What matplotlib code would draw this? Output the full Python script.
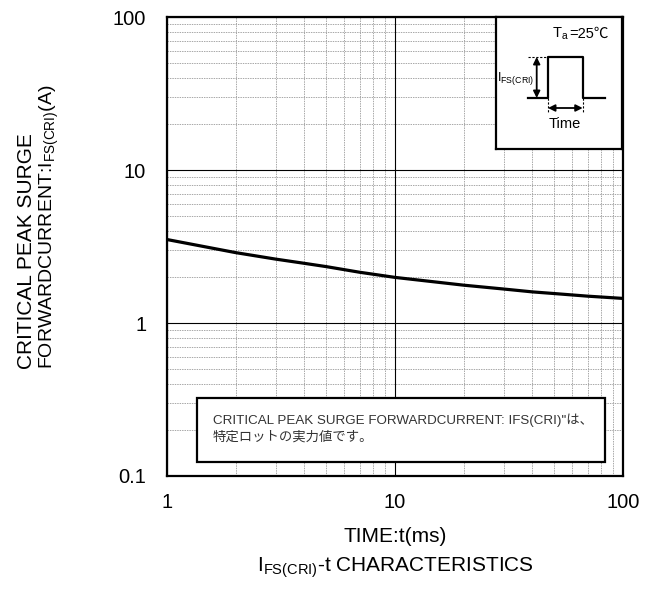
import matplotlib
matplotlib.use("Agg")
import matplotlib.pyplot as plt
from matplotlib.patches import Rectangle
from matplotlib.ticker import LogLocator, NullFormatter

plt.rcParams['font.family'] = ['Liberation Sans', 'Noto Sans CJK JP', 'DejaVu Sans']
plt.rcParams['mathtext.fontset'] = 'custom'
plt.rcParams['mathtext.rm'] = 'Liberation Sans'

# curve
time_ms = [1, 2, 3, 4, 5, 7, 10, 20, 30, 40, 50, 70, 100]
current_a = [3.52, 2.89, 2.62, 2.46, 2.34, 2.15, 1.99, 1.77, 1.67, 1.60, 1.56, 1.50, 1.45]

x_ticks = [1, 10, 100]
x_tick_labels = ['1', '10', '100']
y_ticks = [0.1, 1, 10, 100]
y_tick_labels = ['0.1', '1', '10', '100']

note_text = 'CRITICAL PEAK SURGE FORWARDCURRENT: IFS(CRI)"は、\n特定ロットの実力値です。'

fig = plt.figure(figsize=(6.63, 5.89), dpi=100)
ax = fig.add_axes([0.2519, 0.1919, 0.6878, 0.7787])

ax.plot(time_ms, current_a, color='black', linewidth=2.3, solid_capstyle='butt', zorder=3)

ax.set_xscale('log')
ax.set_yscale('log')
ax.set_xlim(1, 100)
ax.set_ylim(0.1, 100)
ax.set_xticks(x_ticks)
ax.set_xticklabels(x_tick_labels)
ax.set_yticks(y_ticks)
ax.set_yticklabels(y_tick_labels)
ax.xaxis.set_minor_locator(LogLocator(base=10, subs=range(2, 10)))
ax.yaxis.set_minor_locator(LogLocator(base=10, subs=range(2, 10)))
ax.xaxis.set_minor_formatter(NullFormatter())
ax.yaxis.set_minor_formatter(NullFormatter())
ax.tick_params(which='both', length=0)
ax.tick_params(axis='x', labelsize=14.5, pad=12)
ax.tick_params(axis='y', labelsize=14.5, pad=15)

ax.grid(True, which='major', color='black', linewidth=0.8)
ax.grid(True, which='minor', color='#a8a8a8', linestyle=(0, (1.5, 1)), linewidth=0.7)
for s in ax.spines.values():
    s.set_linewidth(1.6)
    s.set_color('black')
    s.set_zorder(5)

# note box
ax.add_patch(Rectangle((0.0658, 0.03), 0.8947, 0.1405, transform=ax.transAxes,
                       facecolor='white', edgecolor='black', linewidth=1.6, zorder=5))
ax.text(0.1, 0.104, note_text, transform=ax.transAxes, fontsize=9.6, color='#333333',
        linespacing=1.45, va='center', ha='left', zorder=6)

# inset schematic
ins = fig.add_axes([495.7 / 663, 1 - 149 / 589, (622 - 495.7) / 663, (149 - 17.3) / 589])
ins.set_xlim(495.7, 622)
ins.set_ylim(149, 17.3)
ins.set_xticks([])
ins.set_yticks([])
for s in ins.spines.values():
    s.set_linewidth(1.6)
ins.plot([527.7, 548, 548, 582.7, 582.7, 605], [98, 98, 56.7, 56.7, 98, 98], color='black', linewidth=1.6)
ins.plot([527.7, 548], [56.7, 56.7], color='black', linewidth=0.8, linestyle=(0, (2, 1.5)))
ins.plot([548, 548], [98, 112], color='black', linewidth=0.8, linestyle=(0, (2, 1.5)))
ins.plot([582.7, 582.7], [98, 112], color='black', linewidth=0.8, linestyle=(0, (2, 1.5)))
ins.annotate('', xy=(536.7, 57), xytext=(536.7, 98),
             arrowprops=dict(arrowstyle='<|-|>', color='black', lw=1.3, mutation_scale=10, shrinkA=0, shrinkB=0))
ins.annotate('', xy=(548, 108), xytext=(582.7, 108),
             arrowprops=dict(arrowstyle='<|-|>', color='black', lw=1.3, mutation_scale=10, shrinkA=0, shrinkB=0))
ins.text(565, 124, 'Time', ha='center', va='center', fontsize=10.5)
ins.text(569, 34, r'T$_{\mathregular{a}}$', ha='right', va='center', fontsize=10.5)
ins.text(569, 34, '=25℃', ha='left', va='center', fontsize=10.5,
         family=['Liberation Sans', 'Noto Sans CJK JP'])
ins.text(497, 79, r'I$_{\mathregular{FS(CRI)}}$', ha='left', va='center', fontsize=9)

# axis labels
fig.text(395 / 663, 1 - 537 / 589, 'TIME:t(ms)', ha='center', va='center', fontsize=15)
fig.text(395 / 663, 1 - 568 / 589, r'I$_{\mathregular{FS(CRI)}}$-t CHARACTERISTICS',
         ha='center', va='center', fontsize=15)
fig.text(27 / 663, 1 - 369 / 589, 'CRITICAL PEAK SURGE', rotation=90, rotation_mode='anchor',
         ha='left', va='center', fontsize=15)
fig.text(49 / 663, 1 - 369 / 589, r'FORWARDCURRENT:I$_{\mathregular{FS(CRI)}}$(A)', rotation=90,
         rotation_mode='anchor', ha='left', va='center', fontsize=14)

fig.savefig('out.png', dpi=100)
